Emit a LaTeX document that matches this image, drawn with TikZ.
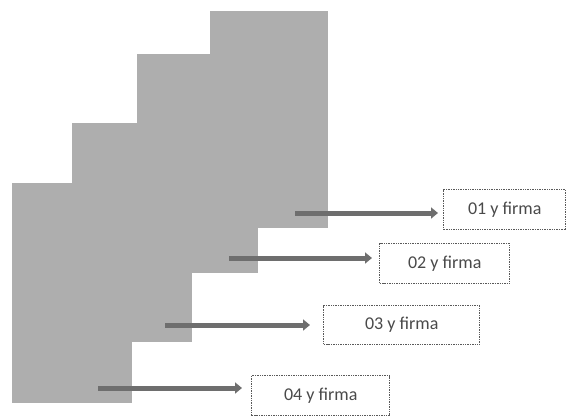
\documentclass[tikz,border=0pt]{standalone}
\usepackage{fontspec}
\setmainfont{Carlito}
\usetikzlibrary{arrows.meta}
\definecolor{pagegray}{HTML}{AEAEAE}
\definecolor{arrgray}{HTML}{6E6E6E}
\definecolor{txtgray}{HTML}{4A4A4A}
\tikzset{
  page/.style={anchor=north west, inner sep=0pt, fill=pagegray, draw=none,
    minimum width=#1},
  page/.default=120bp,
  label box/.style={anchor=north west, inner sep=0pt, draw=black!65,
    densely dotted, line width=1.4bp, fill=white, text=txtgray,
    font=\fontsize{18bp}{20bp}\selectfont, minimum height=40bp},
  fat arrow/.style={draw=arrgray, line width=5bp,
    -{Triangle[length=7bp,width=11bp]}}
}
\begin{document}
\begin{tikzpicture}[x=1bp,y=-1bp]
\useasboundingbox (0,0) rectangle (566,416);
% stacked pages
\node[page, minimum height=220bp] (p4) at (12,183) {};
\node[page, minimum height=219bp] (p3) at (72,123) {};
\node[page, minimum width=121bp, minimum height=219bp] (p2) at (137,54) {};
\node[page, minimum width=118bp, minimum height=217bp] (p1) at (210,11) {};
% label boxes
\node[label box, minimum width=122bp] (b1) at (443,189) {01 y firma};
\node[label box, minimum width=130bp] (b2) at (379,243) {02 y firma};
\node[label box, minimum width=156bp, minimum height=39bp] (b3) at (323,305) {03 y firma};
\node[label box, minimum width=138bp] (b4) at (251,375) {04 y firma};
% arrow ends
\coordinate (s1) at (295,213); \coordinate (e1) at (438,213);
\coordinate (s2) at (229,258); \coordinate (e2) at (372,258);
\coordinate (s3) at (165,325); \coordinate (e3) at (310,325);
\coordinate (s4) at (98,388);  \coordinate (e4) at (242,388);
\draw[fat arrow] (s1) -- (e1);
\draw[fat arrow] (s2) -- (e2);
\draw[fat arrow] (s3) -- (e3);
\draw[fat arrow] (s4) -- (e4);
\end{tikzpicture}
\end{document}
